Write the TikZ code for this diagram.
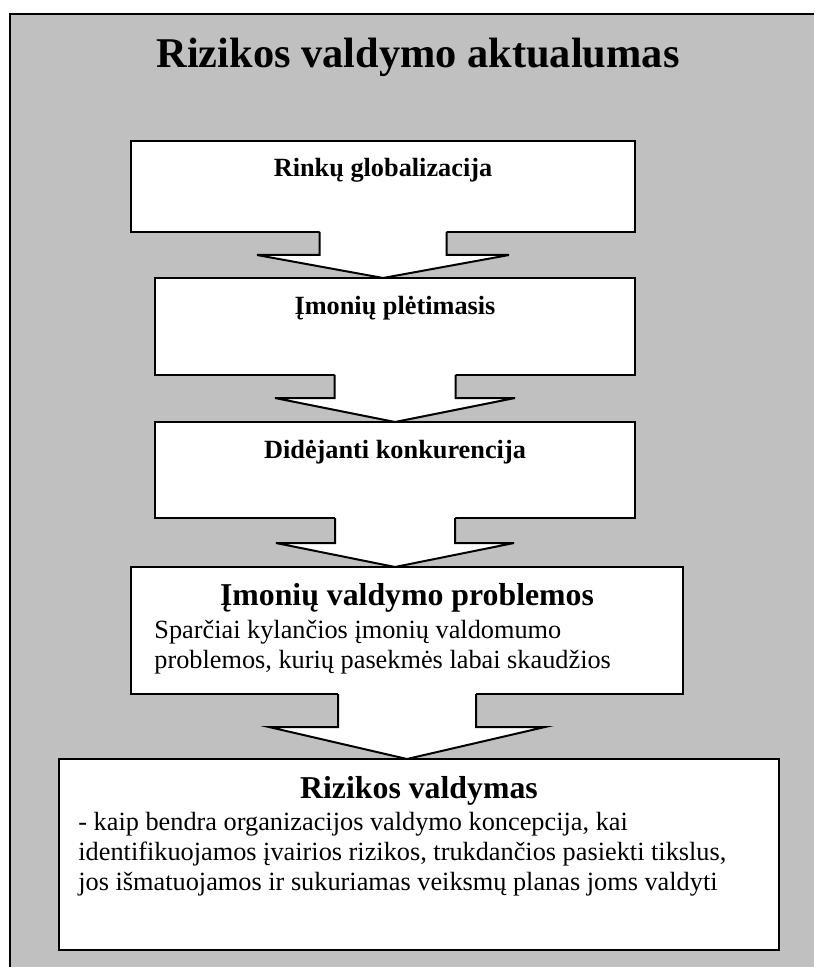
\documentclass[tikz,border=0pt]{standalone}
\usepackage{fontspec}
\setmainfont{Liberation Serif}
\usetikzlibrary{calc}
\definecolor{panel}{RGB}{192,192,192}

% Block arrow from the bottom of box #1 down to the top of box #2.
% #3 half stem width, #4 half head width, #5 stem length (all in px units)
\newcommand\flowarrow[5]{%
  \coordinate (#1-tip) at (#1.south |- #2.north);
  \fill[white] ($(#1.south)+(-#3,-1.5)$) -- ($(#1.south)+(-#3,#5)$)
     -- ($(#1.south)+(-#4,#5)$) -- (#1-tip) -- ($(#1.south)+(#4,#5)$)
     -- ($(#1.south)+(#3,#5)$) -- ($(#1.south)+(#3,-1.5)$) -- cycle;
  \draw[arrowline] ($(#1.south)+(-#3,0)$) -- ($(#1.south)+(-#3,#5)$)
     -- ($(#1.south)+(-#4,#5)$) -- (#1-tip) -- ($(#1.south)+(#4,#5)$)
     -- ($(#1.south)+(#3,#5)$) -- ($(#1.south)+(#3,0)$);
}

\begin{document}
\begin{tikzpicture}[x=0.5pt,y=-0.5pt,
  panelbox/.style={draw, fill=white, line width=1pt, rectangle, inner sep=0pt, outer sep=0pt},
  boxtitle/.style={font=\fontsize{13.15}{15}\selectfont\bfseries, inner sep=0pt, anchor=base},
  boxhead/.style={font=\fontsize{15.9}{18}\selectfont\bfseries, inner sep=0pt, anchor=base},
  bodyline/.style={font=\fontsize{13.15}{15}\selectfont, inner sep=0pt, anchor=base west},
  arrowline/.style={line width=1pt, line join=miter}]
\useasboundingbox (0,0) rectangle (814,967);

% grey panel, running past the right and bottom edges
\fill[panel] (10,14) rectangle (814,967);
\draw[line width=1pt] (10,967) -- (10,14) -- (814,14);
\node[font=\fontsize{21.2}{24}\selectfont\bfseries, inner sep=0pt, anchor=base] (title) at (418,68) {Rizikos valdymo aktualumas};

% boxes
\node[panelbox, minimum width=252pt, minimum height=45.5pt] (b1) at (383,186.5) {};
\node[panelbox, minimum width=240pt, minimum height=48.5pt] (b2) at (395,326.5) {};
\node[panelbox, minimum width=240pt, minimum height=48pt]   (b3) at (395,470) {};
\node[panelbox, minimum width=276pt, minimum height=63.5pt] (b4) at (407,630.5) {};
\node[panelbox, minimum width=360pt, minimum height=95.5pt] (b5) at (419,854.5) {};

% arrows between boxes
\flowarrow{b1}{b2}{63.5}{126}{23}
\flowarrow{b2}{b3}{60.5}{120}{23}
\flowarrow{b3}{b4}{60}{119}{25}
\flowarrow{b4}{b5}{69}{138}{33}

% texts
\node[boxtitle] (t1) at (383,177) {Rinkų globalizacija};
\node[boxtitle] (t2) at (395,315) {Įmonių plėtimasis};
\node[boxtitle] (t3) at (395,458) {Didėjanti konkurencija};

\node[boxhead] (h4) at (407,605) {Įmonių valdymo problemos};
\node[bodyline] (l4a) at (154,638) {Sparčiai kylančios įmonių valdomumo};
\node[bodyline] (l4b) at (154,668) {problemos, kurių pasekmės labai skaudžios};

\node[boxhead] (h5) at (419,798) {Rizikos valdymas};
\node[bodyline] (l5a) at (78,830) {- kaip bendra organizacijos valdymo koncepcija, kai};
\node[bodyline] (l5b) at (78,860) {identifikuojamos įvairios rizikos, trukdančios pasiekti tikslus,};
\node[bodyline] (l5c) at (78,890) {jos išmatuojamos ir sukuriamas veiksmų planas joms valdyti};
\end{tikzpicture}
\end{document}
